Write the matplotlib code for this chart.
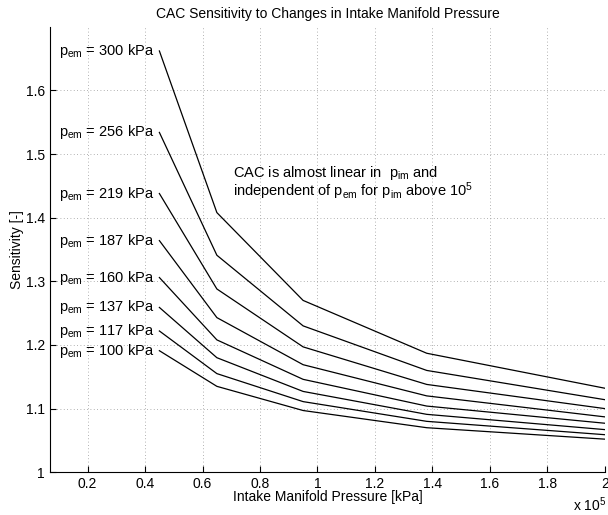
import matplotlib
matplotlib.use('Agg')
import matplotlib.pyplot as plt
from matplotlib.ticker import FuncFormatter

plt.rcParams['font.family'] = ['Liberation Sans', 'DejaVu Sans']
plt.rcParams['mathtext.fontset'] = 'custom'
plt.rcParams['mathtext.rm'] = 'Liberation Sans'
plt.rcParams['mathtext.it'] = 'Liberation Sans'

# Intake manifold pressure [Pa]
p_im = [45000, 65000, 95000, 138000, 200000]

# Exhaust manifold pressure levels [kPa]
p_em = [300, 256, 219, 187, 160, 137, 117, 100]

# Sensitivity for each p_em curve
sens_300 = [1.662, 1.408, 1.270, 1.187, 1.132]
sens_256 = [1.534, 1.341, 1.230, 1.160, 1.114]
sens_219 = [1.438, 1.288, 1.197, 1.138, 1.100]
sens_187 = [1.364, 1.243, 1.169, 1.120, 1.087]
sens_160 = [1.306, 1.208, 1.146, 1.104, 1.077]
sens_137 = [1.259, 1.180, 1.127, 1.091, 1.067]
sens_117 = [1.222, 1.155, 1.111, 1.080, 1.059]
sens_100 = [1.191, 1.135, 1.097, 1.070, 1.052]
curves = [sens_300, sens_256, sens_219, sens_187, sens_160, sens_137, sens_117, sens_100]

fig = plt.figure(figsize=(6.08, 5.15), dpi=100)
ax = fig.add_axes([0.082, 0.083, 0.913, 0.865])

for p, s in zip(p_em, curves):
    ax.plot(p_im, s, color='black', linewidth=0.9)
    ax.text(10000, s[0], r'$\mathregular{p_{em}}$ = %d kPa' % p, fontsize=10.5,
            ha='left', va='center')

ax.text(70500, 1.471, r'CAC is almost linear in  $\mathregular{p_{im}}$ and', fontsize=10.5,
        ha='left', va='center')
ax.text(70500, 1.442, r'independent of $\mathregular{p_{em}}$ for $\mathregular{p_{im}}$ above $\mathregular{10^5}$',
        fontsize=10.5, ha='left', va='center')

ax.set_xlim(6900, 200000)
ax.set_ylim(1, 1.7)
ax.set_xticks([20000, 40000, 60000, 80000, 100000, 120000, 140000, 160000, 180000, 200000])
ax.set_yticks([1, 1.1, 1.2, 1.3, 1.4, 1.5, 1.6])
ax.xaxis.set_major_formatter(FuncFormatter(lambda v, pos: '%g' % (v / 1e5)))
ax.yaxis.set_major_formatter(FuncFormatter(lambda v, pos: '%g' % v))
ax.tick_params(direction='in', length=4, labelsize=10)
ax.spines['top'].set_visible(False)
ax.spines['right'].set_visible(False)
ax.grid(True, linestyle=(0, (1, 3)), color='#999999', linewidth=0.6)

ax.set_title('CAC Sensitivity to Changes in Intake Manifold Pressure', fontsize=10, pad=6)
ax.set_xlabel('Intake Manifold Pressure [kPa]', fontsize=10, labelpad=-1)
ax.set_ylabel('Sensitivity [-]', fontsize=10, labelpad=1)
fig.text(0.97, 0.02, r'x $\mathregular{10^5}$', fontsize=10, ha='center', va='center')

fig.savefig('out.png', dpi=100)
